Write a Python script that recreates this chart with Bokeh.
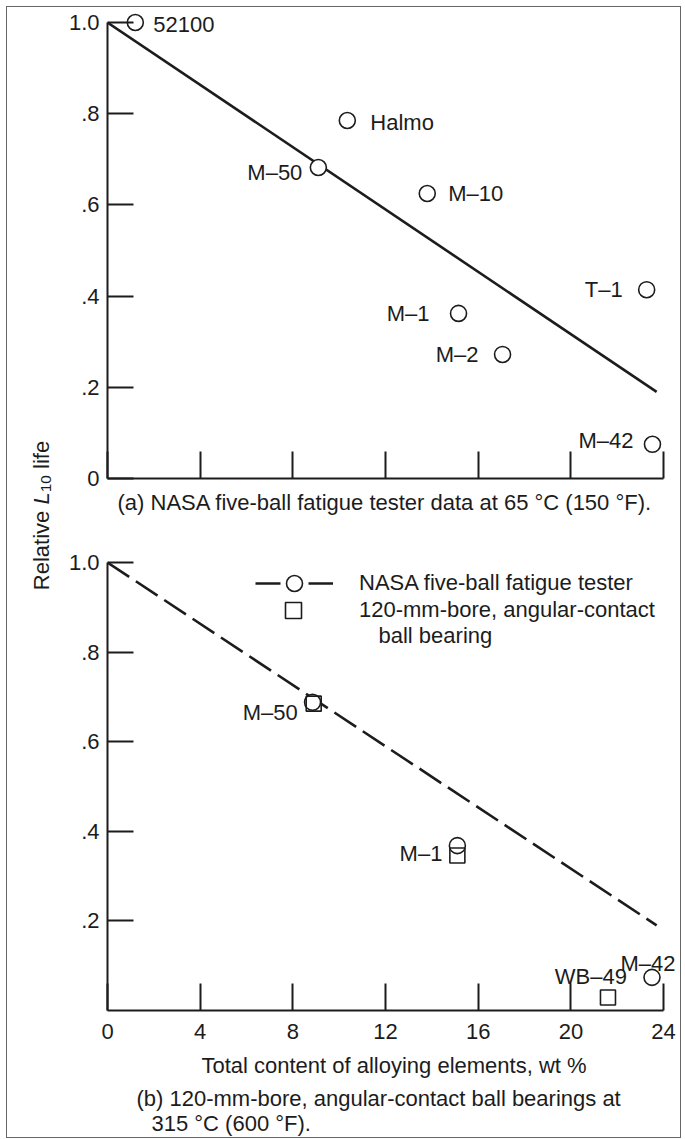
import math
from bokeh.plotting import figure
from bokeh.models import ColumnDataSource, Legend, LegendItem, Label, FixedTicker, Range1d
from bokeh.layouts import row, column
from bokeh.embed import file_html
from bokeh.resources import INLINE
from bokeh.core.properties import value

# ---------------- data ----------------
a_names = ["52100", "Halmo", "M–50", "M–10", "M–1", "M–2", "T–1", "M–42"]
a_content = [1.2, 10.35, 9.1, 13.8, 15.15, 17.05, 23.27, 23.52]
a_life = [1.0, 0.785, 0.682, 0.625, 0.362, 0.272, 0.414, 0.075]

fit_content = [0.0, 23.7]
fit_life = [1.0, 0.19]

b_tester_names = ["M–50", "M–1", "M–42"]
b_tester_content = [8.85, 15.1, 23.5]
b_tester_life = [0.688, 0.368, 0.074]

b_bearing_names = ["M–50", "M–1", "WB–49"]
b_bearing_content = [8.9, 15.1, 21.6]
b_bearing_life = [0.685, 0.346, 0.029]

x_ticks = [0, 4, 8, 12, 16, 20, 24]
x_tick_labels = ["0", "4", "8", "12", "16", "20", "24"]
y_ticks = [0.0, 0.2, 0.4, 0.6, 0.8, 1.0]
y_tick_labels = ["0", ".2", ".4", ".6", ".8", "1.0"]

caption_a = "(a) NASA five-ball fatigue tester data at 65 °C (150 °F)."
caption_b = ["(b) 120-mm-bore, angular-contact ball bearings at", "315 °C (600 °F)."]
x_title = "Total content of alloying elements, wt %"
legend_texts = ["NASA five-ball fatigue tester", "120-mm-bore, angular-contact", "ball bearing"]

# ---------------- style / layout ----------------
FONT = "Liberation Sans"
FSN = 22
FS = f"{FSN}px"
INK = "#1c1c1c"

# label placement (px): name -> (dx, dy, align)
place_a = {
    "52100": (18, 2, "left"), "Halmo": (23, 2, "left"), "M–50": (-16, 5, "right"),
    "M–10": (21, 0, "left"), "M–1": (-29, 0, "right"), "M–2": (-24, 0, "right"),
    "T–1": (-24, 0, "right"), "M–42": (-19, -4, "right"),
}
place_b_tester = {"M–1": (-15, 8, "right"), "M–42": (-4, -14, "center")}
place_b_bearing = {"M–50": (-16, 9, "right"), "WB–49": (19, -21, "right")}

W_MAIN = 621
X_END = 24.73


def base_fig(width, height, y_end, mb_top, mb_bottom):
    p = figure(width=width, height=height, x_range=Range1d(0, X_END), y_range=Range1d(0, y_end),
               output_backend="svg", toolbar_location=None, title=None,
               min_border_left=48, min_border_right=0, min_border_top=mb_top,
               min_border_bottom=mb_bottom, background_fill_color="white",
               border_fill_color="white", outline_line_color=None)
    p.grid.visible = False
    for ax in p.axis:
        ax.axis_line_color = INK
        ax.axis_line_width = 2
        ax.major_tick_line_color = INK
        ax.major_tick_line_width = 2
        ax.minor_tick_line_color = None
        ax.major_tick_out = 0
        ax.major_label_text_font = FONT
        ax.major_label_text_font_size = FS
        ax.major_label_text_color = INK
        ax.axis_label_text_font = FONT
        ax.axis_label_text_font_size = FS
        ax.axis_label_text_font_style = "normal"
        ax.axis_label_text_color = INK
    p.xaxis.bounds = (0, 24)
    p.yaxis.bounds = (0, 1)
    p.xaxis.major_tick_in = 27
    p.yaxis.major_tick_in = 26
    p.xaxis.ticker = FixedTicker(ticks=x_ticks)
    p.yaxis.major_label_standoff = 8
    return p


def text_fig(width, height):
    p = figure(width=width, height=height, x_range=(0, 1), y_range=(0, 1), toolbar_location=None,
               output_backend="svg", x_axis_location=None, y_axis_location=None, min_border=0,
               outline_line_color=None, title=None, background_fill_color="white",
               border_fill_color="white")
    p.grid.visible = False
    return p


def put_text(p, x, y, text, **kw):
    opts = dict(x=x, y=y, x_units="screen", y_units="screen", text=text,
                text_baseline="middle", text_font=FONT, text_font_size=FS, text_color=INK)
    opts.update(kw)
    p.add_layout(Label(**opts))


def add_labels(p, xs, ys, names, placement):
    groups = {}
    for x, y, n in zip(xs, ys, names):
        if n not in placement:
            continue
        dx, dy, al = placement[n]
        g = groups.setdefault(al, dict(x=[], y=[], text=[], dx=[], dy=[]))
        g["x"].append(x); g["y"].append(y); g["text"].append(n)
        g["dx"].append(dx); g["dy"].append(dy)
    for al, g in groups.items():
        p.text(x="x", y="y", text="text", x_offset="dx", y_offset="dy",
               source=ColumnDataSource(g), text_align=al, text_baseline="middle",
               text_font=value(FONT), text_font_size=value(FS), text_color=INK)


# ---------- panel (a) ----------
pa = base_fig(W_MAIN, 483, 1.0219, 5, 12)
pa.yaxis.ticker = FixedTicker(ticks=y_ticks)
pa.yaxis.major_label_overrides = dict(zip(y_ticks, y_tick_labels))
pa.xaxis.major_label_text_font_size = "1px"
pa.xaxis.major_label_text_color = None
pa.xaxis.major_label_standoff = 0
pa.line(fit_content, fit_life, line_color=INK, line_width=2.6)
pa.scatter(a_content, a_life, marker="circle", size=16, fill_color="white",
           line_color=INK, line_width=1.6)
add_labels(pa, a_content, a_life, a_names, place_a)

# caption figures: their frames line up with the plot frames (x = 0 at the y axis)
cap_a = text_fig(W_MAIN, 40)
put_text(cap_a, 10, 28, caption_a)

# ---------- panel (b) ----------
pb = base_fig(W_MAIN, 552, 1.038, 15, 72)
pb.yaxis.ticker = FixedTicker(ticks=y_ticks[1:])
pb.yaxis.major_label_overrides = dict(zip(y_ticks[1:], y_tick_labels[1:]))
pb.xaxis.major_label_overrides = dict(zip(x_ticks, x_tick_labels))
pb.xaxis.major_label_standoff = 13
pb.xaxis.axis_label = x_title
pb.xaxis.axis_label_standoff = 11
pb.line(fit_content, fit_life, line_color=INK, line_width=2.6, line_dash="26 8")
pb.scatter(b_tester_content, b_tester_life, marker="circle", size=16, fill_color="white",
           line_color=INK, line_width=1.6)
pb.scatter(b_bearing_content, b_bearing_life, marker="square", size=15, fill_alpha=0,
           line_color=INK, line_width=1.6)
add_labels(pb, b_tester_content, b_tester_life, b_tester_names, place_b_tester)
add_labels(pb, b_bearing_content, b_bearing_life, b_bearing_names, place_b_bearing)

# legend proxies (NaN data, drawn only in the legend)
nan = float("nan")
lg_line = pb.line([nan], [nan], line_color=INK, line_width=2.6, line_dash="25 28")
lg_circ = pb.scatter([nan], [nan], marker="circle", size=16, fill_color="white",
                     line_color=INK, line_width=1.6)
lg_sq = pb.scatter([nan], [nan], marker="square", size=16, fill_color="white",
                   line_color=INK, line_width=1.6)

common = dict(padding=0, margin=0, border_line_color=None, background_fill_alpha=0,
              label_text_font=FONT, label_text_font_size=FS, label_text_color=INK,
              glyph_height=40, label_height=40)
legA = Legend(items=[LegendItem(label=legend_texts[0], renderers=[lg_line, lg_circ])],
              location=(148, 407), glyph_width=78, label_standoff=26, **common)
legB = Legend(items=[LegendItem(label=legend_texts[1], renderers=[lg_sq])],
              location=(166, 380), glyph_width=40, label_standoff=46, **common)
pb.add_layout(legA, "center")
pb.add_layout(legB, "center")
put_text(pb, 271, 375, legend_texts[2])

cap_b = text_fig(W_MAIN, 55)
put_text(cap_b, 29, 39, caption_b[0])
put_text(cap_b, 44, 14, caption_b[1])

# ---------- shared y title ----------
H_ALL = 1130
pl = text_fig(52, H_ALL)
F = float(FSN)
FSUB = 15.5
w_rel = 3.612 * F
w_sp = 0.278 * F
w_L = 0.556 * F
w_10 = 1.112 * FSUB
w_life = 1.278 * F
total = w_rel + w_sp + w_L + w_10 + w_sp + w_life
ycen = 622
xbase = 34
y0 = ycen - total / 2
pieces = [
    ("Relative", y0, xbase, F, "normal"),
    ("L", y0 + w_rel + w_sp, xbase, F, "italic"),
    ("10", y0 + w_rel + w_sp + w_L, xbase + 4, FSUB, "normal"),
    ("life", y0 + w_rel + w_sp + w_L + w_10 + w_sp, xbase, F, "normal"),
]
for txt, yy, xx, fs, st in pieces:
    put_text(pl, xx, yy, txt, angle=math.pi / 2, text_align="left",
             text_baseline="alphabetic", text_font_size=f"{fs}px", text_font_style=st)

root = row(pl, column(pa, cap_a, pb, cap_b),
           styles={"border": "1px solid #666666", "margin-left": "6px", "margin-top": "6px"})
open("out.html", "w").write(file_html(root, INLINE))
